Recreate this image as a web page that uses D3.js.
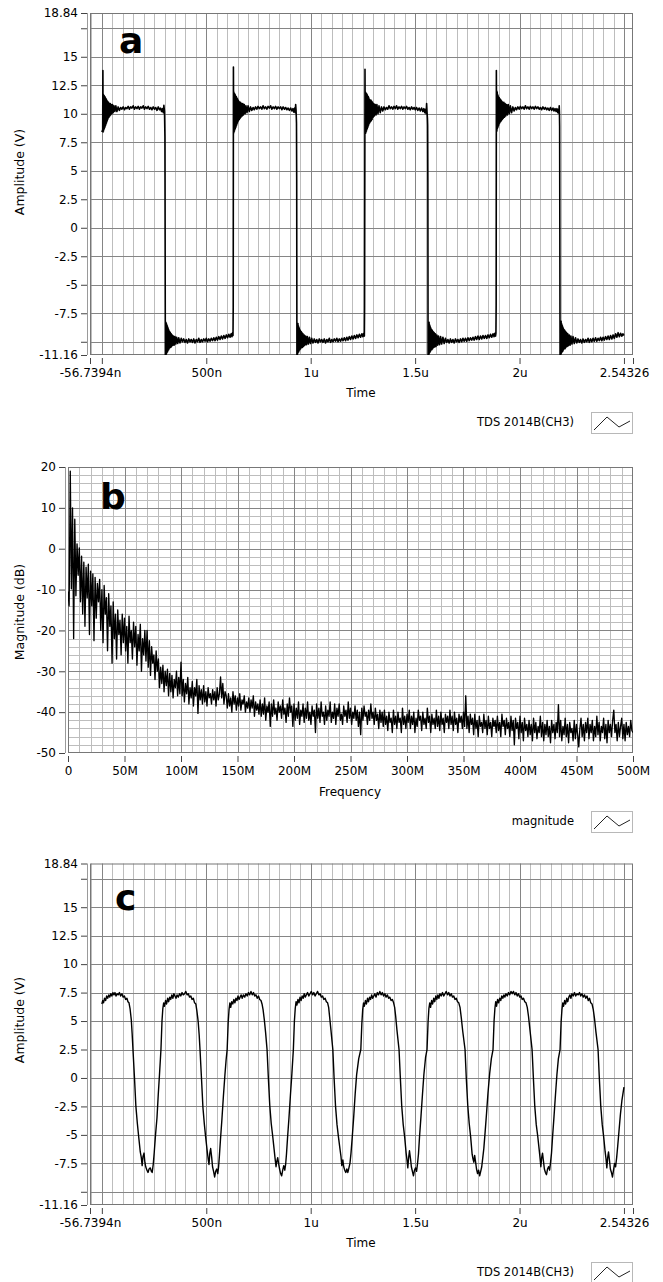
<!DOCTYPE html>
<html><head><meta charset="utf-8">
<script src="https://cdn.jsdelivr.net/npm/d3@7"></script>
<style>
html,body{margin:0;padding:0;background:#fff;}
svg text{font-family:"DejaVu Sans",Verdana,sans-serif;fill:#000;}
</style></head><body>
<svg id="chart" width="663" height="1282"></svg>
<script>
// ---------------- DATA ----------------
const timeTickValues = [-56.7394, 0, 500, 1000, 1500, 2000, 2500, 2543.26];
const timeTickLabels = ["-56.7394n", "", "500n", "1u", "1.5u", "2u", "", "2.54326"];
const ampTickValues = [18.84, 17.5, 15, 12.5, 10, 7.5, 5, 2.5, 0, -2.5, -5, -7.5, -10, -11.16];
const ampTickLabels = ["18.84", "", "15", "12.5", "10", "7.5", "5", "2.5", "0", "-2.5", "-5", "-7.5", "", "-11.16"];
const freqTickValues = [0, 50, 100, 150, 200, 250, 300, 350, 400, 450, 500];
const freqTickLabels = ["0", "50M", "100M", "150M", "200M", "250M", "300M", "350M", "400M", "450M", "500M"];
const magTickValues = [20, 10, 0, -10, -20, -30, -40, -50];
const magTickLabels = ["20", "10", "0", "-10", "-20", "-30", "-40", "-50"];

// panel a: [time ns, amplitude V]
const waveA = [
[0,8.4],[4,8.6],[5,13.8],[6,8.4],[7,11.7],[8,8.5],[9,11.6],[10,8.6],[11,11.6],[12,8.7],[13,11.5],[14,8.8],[15,11.5],[16,8.9],[17,11.4],[18,9.0],[19,11.3],[20,9.1],[21,11.3],[22,9.2],[23,11.2],[24,9.3],[25,11.1],[26,9.4],[27,11.1],[28,9.5],[29,11.0],[30,9.6],[32,11.0],[34,9.7],[36,10.9],[38,9.8],[40,10.9],[42,9.9],[45,10.8],[48,10.0],[51,10.8],[54,10.1],[58,10.7],[62,10.2],[67,10.7],[72,10.2],[78,10.6],[84,10.3],
[90,10.55],[96,10.4],[102,10.6],[108,10.35],[114,10.55],[120,10.45],[126,10.65],[132,10.4],[138,10.6],[144,10.5],[150,10.7],[156,10.4],[162,10.6],[168,10.45],[174,10.65],[180,10.4],[186,10.6],[192,10.5],[198,10.7],[204,10.4],[210,10.6],[216,10.45],[222,10.65],[228,10.4],[234,10.55],[240,10.35],[246,10.6],[252,10.4],[258,10.55],[264,10.3],[270,10.6],[276,10.35],[281,10.5],[286,10.2],[290,10.45],[294,10.1],[297,10.75],[300,10.2],[302,8.0],[303,-1.0],[304,-11.5],
[305,-8.4],[306,-11.3],[307,-8.3],[308,-11.1],[309,-8.4],[310,-11.0],[311,-8.5],[312,-10.9],[313,-8.6],[314,-10.9],[315,-8.7],[316,-10.8],[317,-8.8],[318,-10.7],[319,-8.9],[320,-10.7],[321,-9.0],[322,-10.6],[324,-9.1],[326,-10.5],[328,-9.2],[330,-10.5],[332,-9.3],[334,-10.4],[337,-9.4],[340,-10.3],[343,-9.5],[346,-10.3],[350,-9.55],[354,-10.2],[358,-9.6],[363,-10.15],[368,-9.65],[374,-10.1],[380,-9.7],
[386,-10.0],[392,-9.75],[398,-10.05],[404,-9.8],[410,-10.1],[416,-9.75],[422,-10.0],[428,-9.8],[434,-10.05],[440,-9.75],[446,-10.1],[452,-9.8],[458,-10.0],[464,-9.7],[470,-10.05],[476,-9.8],[482,-10.0],[488,-9.75],[494,-9.95],[500,-9.7],[506,-10.0],[512,-9.75],[518,-9.95],[524,-9.7],[530,-9.9],[536,-9.65],[542,-9.9],[548,-9.6],[554,-9.85],[560,-9.55],[566,-9.8],[572,-9.5],[578,-9.75],[584,-9.45],[590,-9.7],[596,-9.4],[602,-9.65],[608,-9.35],[614,-9.6],[619,-9.3],[623,-9.55],[626,-9.2],[628,-9.45],[629,-7.0],
[630,14.1],[631,8.3],[632,11.9],[633,8.4],[634,11.8],[635,8.5],[636,11.7],[637,8.6],[638,11.7],[639,8.7],[640,11.6],[641,8.8],[642,11.5],[643,8.9],[644,11.5],[645,9.0],[646,11.4],[647,9.1],[648,11.3],[649,9.2],[650,11.3],[651,9.3],[652,11.2],[654,9.4],[656,11.1],[658,9.5],[660,11.0],[662,9.6],[664,11.0],[666,9.7],[669,10.9],[672,9.8],[675,10.9],[678,9.9],[682,10.8],[686,10.0],[690,10.7],[695,10.1],[700,10.7],[706,10.2],[712,10.6],[718,10.3],
[724,10.55],[730,10.35],[736,10.6],[742,10.4],[748,10.65],[754,10.45],[760,10.6],[766,10.4],[772,10.7],[778,10.45],[784,10.6],[790,10.4],[796,10.65],[802,10.5],[808,10.7],[814,10.4],[820,10.6],[826,10.45],[832,10.65],[838,10.4],[844,10.6],[850,10.45],[856,10.6],[862,10.35],[868,10.6],[874,10.4],[880,10.55],[886,10.35],[892,10.5],[898,10.3],[904,10.5],[910,10.25],[915,10.45],[919,10.15],[923,10.5],[926,10.1],[928,10.8],[930,10.3],[932,9.2],[933,4.2],[934,-11.5],
[935,-8.4],[936,-11.2],[937,-8.5],[938,-11.0],[939,-8.4],[940,-10.9],[941,-8.6],[942,-10.9],[943,-8.7],[944,-10.8],[945,-8.8],[946,-10.7],[947,-8.9],[948,-10.7],[950,-9.0],[952,-10.6],[954,-9.1],[956,-10.5],[958,-9.2],[960,-10.5],[963,-9.3],[966,-10.4],[969,-9.4],[972,-10.3],[976,-9.5],[980,-10.25],[984,-9.55],[989,-10.2],[994,-9.6],[999,-10.15],[1005,-9.7],[1011,-10.1],
[1017,-9.75],[1023,-10.05],[1029,-9.8],[1035,-10.1],[1041,-9.75],[1047,-10.0],[1053,-9.8],[1059,-10.05],[1065,-9.75],[1071,-10.1],[1077,-9.8],[1083,-10.0],[1089,-9.7],[1095,-10.05],[1101,-9.8],[1107,-10.0],[1113,-9.75],[1119,-9.95],[1125,-9.7],[1131,-10.0],[1137,-9.75],[1143,-9.95],[1149,-9.7],[1155,-9.9],[1161,-9.65],[1167,-9.9],[1173,-9.6],[1179,-9.85],[1185,-9.55],[1191,-9.8],[1197,-9.5],[1203,-9.75],[1209,-9.45],[1215,-9.7],[1221,-9.4],[1227,-9.65],[1233,-9.35],[1239,-9.6],[1245,-9.3],[1250,-9.55],[1254,-9.25],[1257,-9.5],[1258,-7.0],
[1260,13.9],[1261,8.3],[1262,11.9],[1263,8.3],[1264,11.8],[1265,8.4],[1266,11.8],[1267,8.5],[1268,11.7],[1269,8.6],[1270,11.7],[1271,8.7],[1272,11.6],[1273,8.8],[1274,11.5],[1275,8.9],[1276,11.5],[1277,9.0],[1278,11.4],[1279,9.1],[1280,11.3],[1282,9.2],[1284,11.2],[1286,9.3],[1288,11.2],[1290,9.4],[1292,11.1],[1294,9.5],[1296,11.0],[1299,9.7],[1302,10.9],[1305,9.8],[1309,10.8],[1313,9.9],[1317,10.8],[1322,10.0],[1327,10.7],[1333,10.1],[1339,10.6],[1345,10.25],
[1351,10.6],[1357,10.35],[1363,10.55],[1369,10.4],[1375,10.7],[1381,10.45],[1387,10.6],[1393,10.4],[1399,10.65],[1405,10.45],[1411,10.7],[1417,10.4],[1423,10.6],[1429,10.45],[1435,10.65],[1441,10.4],[1447,10.6],[1453,10.45],[1459,10.65],[1465,10.4],[1471,10.55],[1477,10.35],[1483,10.6],[1489,10.4],[1495,10.55],[1501,10.35],[1507,10.55],[1513,10.3],[1519,10.5],[1525,10.25],[1531,10.5],[1537,10.2],[1542,10.45],[1546,10.1],[1550,10.4],[1553,10.0],[1555,10.9],[1557,10.2],[1559,9.6],[1560,9.0],[1561,4.0],[1562,-11.5],
[1563,-8.3],[1564,-11.2],[1565,-8.4],[1566,-11.1],[1567,-8.3],[1568,-11.0],[1569,-8.5],[1570,-10.9],[1571,-8.6],[1572,-10.9],[1573,-8.7],[1574,-10.8],[1575,-8.8],[1576,-10.7],[1578,-8.9],[1580,-10.7],[1582,-9.0],[1584,-10.6],[1586,-9.1],[1588,-10.5],[1591,-9.2],[1594,-10.45],[1597,-9.3],[1600,-10.4],[1604,-9.4],[1608,-10.3],[1612,-9.5],[1617,-10.25],[1622,-9.55],[1627,-10.2],[1633,-9.6],[1639,-10.15],[1645,-9.7],
[1651,-10.05],[1657,-9.8],[1663,-10.1],[1669,-9.75],[1675,-10.05],[1681,-9.8],[1687,-10.1],[1693,-9.75],[1699,-10.0],[1705,-9.8],[1711,-10.05],[1717,-9.75],[1723,-10.0],[1729,-9.7],[1735,-9.95],[1741,-9.7],[1747,-9.95],[1753,-9.65],[1759,-9.9],[1765,-9.65],[1771,-9.85],[1777,-9.6],[1783,-9.85],[1789,-9.55],[1795,-9.8],[1801,-9.5],[1807,-9.8],[1813,-9.5],[1819,-9.75],[1825,-9.45],[1831,-9.7],[1837,-9.45],[1843,-9.7],[1849,-9.4],[1855,-9.65],[1861,-9.35],[1867,-9.6],[1873,-9.3],[1878,-9.55],[1882,-9.25],[1885,-9.5],[1887,-9.25],[1888,-6.8],
[1889,13.8],[1890,8.5],[1891,12.0],[1892,8.5],[1893,11.9],[1894,8.7],[1895,11.7],[1896,8.8],[1897,11.6],[1898,8.9],[1899,11.5],[1900,9.0],[1901,11.4],[1902,9.1],[1903,11.4],[1905,9.2],[1907,11.3],[1909,9.3],[1911,11.2],[1913,9.4],[1915,11.1],[1917,9.5],[1919,11.0],[1922,9.6],[1925,11.0],[1928,9.7],[1931,10.9],[1934,9.8],[1938,10.8],[1942,9.9],[1946,10.8],[1951,10.0],[1956,10.7],[1962,10.1],[1968,10.6],[1974,10.25],
[1980,10.55],[1986,10.35],[1992,10.6],[1998,10.4],[2004,10.65],[2010,10.45],[2016,10.6],[2022,10.4],[2028,10.7],[2034,10.45],[2040,10.6],[2046,10.4],[2052,10.65],[2058,10.45],[2064,10.6],[2070,10.4],[2076,10.65],[2082,10.45],[2088,10.6],[2094,10.4],[2100,10.55],[2106,10.35],[2112,10.6],[2118,10.4],[2124,10.55],[2130,10.35],[2136,10.5],[2142,10.3],[2148,10.55],[2154,10.3],[2160,10.5],[2165,10.25],[2170,10.45],[2175,10.2],[2179,10.45],[2183,10.1],[2186,10.4],[2188,10.05],[2190,10.7],[2191,10.2],[2192,8.9],[2193,-0.5],[2194,-11.5],
[2195,-8.2],[2196,-11.3],[2197,-8.3],[2198,-11.1],[2199,-8.2],[2200,-11.0],[2201,-8.4],[2202,-10.9],[2203,-8.5],[2204,-10.9],[2205,-8.6],[2206,-10.8],[2207,-8.7],[2208,-10.8],[2209,-8.8],[2210,-10.7],[2212,-8.9],[2214,-10.6],[2216,-9.0],[2218,-10.6],[2220,-9.1],[2222,-10.5],[2225,-9.2],[2228,-10.4],[2231,-9.3],[2234,-10.35],[2238,-9.4],[2242,-10.3],[2246,-9.5],[2251,-10.2],[2256,-9.55],[2262,-10.15],[2268,-9.65],[2274,-10.1],
[2280,-9.75],[2286,-10.05],[2292,-9.8],[2298,-10.1],[2304,-9.75],[2310,-10.05],[2316,-9.8],[2322,-10.0],[2328,-9.7],[2334,-10.05],[2340,-9.75],[2346,-10.0],[2352,-9.7],[2358,-9.95],[2364,-9.65],[2370,-9.95],[2376,-9.7],[2382,-9.9],[2388,-9.6],[2394,-9.9],[2400,-9.6],[2406,-9.85],[2412,-9.55],[2418,-9.8],[2424,-9.5],[2430,-9.8],[2436,-9.45],[2442,-9.75],[2448,-9.4],[2454,-9.7],[2460,-9.3],[2466,-9.6],[2472,-9.2],[2478,-9.55],[2484,-9.25],[2490,-9.5],[2495,-9.3],[2500,-9.45]
];

// panel b: magnitude in dB at 1 MHz steps starting at 0 MHz
const freqStepMHz = 1;
const spectrumB = [
-10.5,-14,19,-9.8,10,-22,7.2,-11.5,1.2,-6.5,
0.2,-13,-1.8,-16,-3.3,-19,-4.5,-12,-3.8,-21,
-5.5,-14,-6.2,-22.5,-7,-17,-8.5,-13,-7.5,-20,
-10,-23,-9,-16,-12,-25,-11,-19,-14,-28,
-13,-22,-16,-27,-15,-21,-17.5,-26,-16,-23,
-17,-25,-19,-28,-16.5,-23,-20,-27,-18,-24,
-19,-28.5,-21,-25,-18.5,-30,-22,-26,-20,-27.5,
-20,-29,-22.5,-31,-24,-28,-26,-32,-25,-30,
-27,-34,-29,-33,-28.5,-35,-30,-33.5,-29.5,-36,
-30.5,-35,-31,-36.5,-32,-34,-30,-36,-31.5,-35.5,
-27.8,-36,-32,-37.5,-33,-35.5,-31.5,-38,-34,-36.5,
-32.5,-38.5,-34,-36,-32,-40.3,-33.5,-37,-34.5,-38,
-33.5,-37.5,-35,-38.5,-34,-36.5,-35.5,-38,-34.5,-37,
-35,-38.5,-34,-37,-35.5,-31.4,-36.5,-33,-38,-35,
-36,-39,-35.5,-38.5,-36.5,-40,-35,-38,-36,-39.5,
-36.5,-38.5,-35.5,-39.5,-37,-38,-36,-40,-37.5,-39,
-36.5,-40,-37,-39,-36,-41,-37.5,-39.5,-38,-40.5,
-37,-41,-38,-40.5,-36.5,-42,-38.5,-40,-37.5,-43.5,
-38,-41,-37,-40.5,-39,-42,-37.5,-40,-38.5,-41.5,
-37,-40.5,-39,-42.5,-38,-41,-36.5,-40,-38.5,-43.5,
-38,-42,-39,-41.5,-37.5,-43,-39.5,-41,-38,-42.5,
-39,-41.5,-37.5,-42,-40,-43,-38.5,-41,-39.5,-45,
-38,-41.5,-39,-42.5,-37.5,-41,-40,-43,-38.5,-42,
-39.5,-41,-37.5,-42.5,-40,-41.5,-38,-43,-39,-41,
-38,-42,-40.5,-43,-38.5,-41,-39.5,-42.5,-37.5,-41.5,
-39,-43,-40,-41.5,-38.5,-42,-39.5,-43.5,-40,-45.5,
-39,-42,-38.5,-41,-40,-43,-39.5,-42,-38,-41.5,
-40,-43,-39,-42,-40.5,-44,-39.5,-42.5,-40,-43.5,
-39.5,-43,-41,-44.5,-40,-42.5,-41.5,-45,-39.5,-43,
-41,-44,-40,-42.5,-41.5,-45,-39,-43,-41,-44,
-40.5,-42.5,-39.5,-44,-41,-43,-40,-45,-41.5,-43.5,
-39.5,-42,-41,-44.5,-40,-43,-41.5,-44,-39,-42.5,
-41,-45,-40.5,-43,-41.5,-44,-39.5,-43.5,-41,-44.5,
-40,-43,-41.5,-45,-40.5,-42.5,-41,-44,-39.5,-43,
-41,-44.5,-40,-43,-41.5,-45,-40.5,-42.5,-41,-44,
-40,-43.5,-36,-44,-41,-45,-40.5,-43,-41.5,-45.5,
-40.5,-44,-42,-46,-41,-43.5,-42.5,-45,-40.5,-44,
-42,-45.5,-41,-44,-42.5,-46,-41.5,-43.5,-42,-45,
-41,-44.5,-42.5,-46,-40.5,-43.5,-42,-45.5,-41.5,-44,
-42.5,-46,-41,-44.5,-42,-48,-41.5,-44,-42.5,-46.5,
-41,-45,-42.5,-47,-41.5,-44.5,-43,-46,-42,-45.5,
-43,-47,-41.5,-45,-42.5,-46.5,-43.5,-45,-41,-46,
-42.5,-47,-43,-45.5,-42,-46,-43.5,-47.5,-42,-45,
-43,-46.5,-42.5,-45,-38.2,-46,-42,-47,-43.5,-45.5,
-41.5,-46,-43,-47.5,-42.5,-45,-44,-47,-42,-46.5,
-43,-45.5,-48.5,-44,-41.5,-46,-43,-47,-42.5,-45,
-41.5,-46.5,-43,-45,-42,-47,-43.5,-46,-41,-45.5,
-42.5,-47,-43.5,-45,-41.5,-46.5,-43,-47.5,-42,-45,
-43,-46,-42,-39.5,-45,-43,-47,-42.5,-46,-43.5,
-41.5,-46.5,-43,-47,-42.5,-45.5,-43.5,-46,-42,-44.5,
-45
];

// panel c: [time ns, amplitude V]
const waveC = [
[0,6.5],[4,6.8],[8,6.6],[13,7.0],[18,6.8],[23,7.2],[28,7.0],[33,7.3],[38,7.1],[43,7.4],[48,7.2],[53,7.5],[58,7.3],[63,7.5],[68,7.2],[73,7.4],[78,7.3],[84,7.5],[90,7.2],[96,7.4],[102,7.1],[108,7.2],[114,6.9],[120,7.0],[125,6.7],[130,6.6],[135,6.1],[141,5.1],[145,3.9],[149,2.5],
[156,0.1],[163,-2.5],[170,-4.0],[176,-5.1],[184,-6.5],[189,-7.0],[193,-7.7],[197,-6.9],[202,-6.6],[206,-7.4],[210,-7.8],[216,-8.1],[221,-8.3],[226,-8.0],[232,-7.9],[237,-8.2],[241,-8.3],[246,-7.6],[251,-6.5],[257,-5.0],[264,-3.5],[270,-1.5],[276,0.3],[283,2.5],
[288,5.0],[292,6.1],[296,6.6],[300,6.3],[305,6.8],[310,6.5],[315,7.0],[320,6.7],[325,7.1],[330,6.9],[335,7.3],[340,7.0],[345,7.4],[350,7.2],[355,7.0],[360,7.3],[366,7.1],[372,7.4],[378,7.2],[384,7.5],[390,7.3],[396,7.4],[402,7.6],[408,7.3],[414,7.4],[420,7.1],[426,7.2],[432,6.9],[438,7.0],[444,6.6],[450,6.5],[455,5.9],[461,5.0],[466,3.8],[470,2.5],
[477,0.0],[484,-2.6],[491,-4.1],[497,-5.2],[505,-6.5],[509,-7.1],[513,-7.6],[517,-6.6],[521,-6.2],[526,-7.0],[530,-7.8],[535,-8.2],[540,-8.7],[545,-8.2],[550,-8.0],[555,-8.4],[559,-7.8],[563,-6.8],[568,-5.4],[575,-3.6],[582,-1.6],[589,0.2],[595,1.6],[600,2.5],
[605,4.9],[609,6.0],[613,6.6],[617,6.2],[622,6.7],[627,6.5],[632,6.9],[637,6.6],[642,7.0],[647,6.8],[652,7.2],[657,6.9],[662,7.1],[667,7.3],[672,7.0],[678,7.3],[684,7.1],[690,7.4],[696,7.2],[702,7.5],[708,7.3],[714,7.6],[720,7.3],[726,7.5],[732,7.2],[738,7.3],[744,7.0],[750,7.2],[756,6.9],[762,6.8],[767,6.5],[772,6.0],[778,5.1],[784,4.0],[791,2.5],
[797,0.1],[804,-2.4],[811,-4.0],[818,-5.1],[825,-6.3],[829,-7.0],[834,-7.8],[838,-7.3],[842,-7.0],[847,-7.6],[851,-8.0],[856,-8.4],[861,-8.6],[866,-8.1],[871,-7.7],[876,-8.1],[880,-7.6],[884,-6.7],[889,-5.3],[896,-3.5],[903,-1.5],[910,0.4],[917,2.5],
[922,5.0],[926,6.1],[930,6.7],[934,6.4],[939,6.9],[944,6.6],[949,7.1],[954,6.8],[959,7.2],[964,7.0],[969,7.4],[974,7.1],[979,7.3],[985,7.5],[991,7.2],[997,7.4],[1003,7.6],[1009,7.3],[1015,7.5],[1021,7.2],[1027,7.4],[1033,7.6],[1039,7.3],[1045,7.4],[1051,7.1],[1057,7.2],[1063,6.9],[1069,7.0],[1075,6.7],[1081,6.6],[1086,6.2],[1091,5.3],[1097,4.2],[1106,2.5],
[1112,0.0],[1119,-2.5],[1126,-4.1],[1133,-5.2],[1140,-6.2],[1145,-6.9],[1149,-7.7],[1154,-7.2],[1158,-7.8],[1163,-8.1],[1168,-8.3],[1173,-8.0],[1178,-8.3],[1183,-7.9],[1188,-7.5],[1193,-6.6],[1199,-5.2],[1206,-3.4],[1213,-1.4],[1220,0.3],[1230,1.7],[1240,2.5],
[1245,4.8],[1249,6.0],[1253,6.6],[1257,6.3],[1262,6.8],[1267,6.5],[1272,7.0],[1277,6.7],[1282,7.1],[1287,6.9],[1292,7.3],[1297,7.0],[1302,7.2],[1307,7.4],[1313,7.1],[1319,7.5],[1325,7.3],[1331,7.6],[1337,7.3],[1343,7.5],[1349,7.2],[1355,7.4],[1361,7.1],[1367,7.3],[1373,7.0],[1379,7.1],[1385,6.8],[1391,6.9],[1397,6.6],[1402,6.2],[1407,5.4],[1413,4.2],[1423,2.5],
[1429,0.1],[1436,-2.5],[1443,-4.1],[1450,-5.2],[1457,-6.6],[1461,-7.2],[1465,-7.9],[1469,-7.0],[1473,-6.4],[1478,-7.1],[1482,-7.8],[1487,-8.2],[1492,-8.6],[1497,-8.1],[1502,-7.9],[1507,-8.2],[1511,-7.6],[1516,-6.7],[1521,-5.2],[1528,-3.4],[1535,-1.5],[1542,0.3],[1550,1.8],[1557,2.5],
[1562,4.9],[1566,6.1],[1570,6.6],[1574,6.2],[1579,6.8],[1584,6.5],[1589,7.0],[1594,6.7],[1599,7.2],[1604,6.9],[1609,7.3],[1614,7.0],[1619,7.4],[1625,7.2],[1631,7.5],[1637,7.2],[1643,7.4],[1649,7.6],[1655,7.3],[1661,7.5],[1667,7.2],[1673,7.4],[1679,7.1],[1685,7.2],[1691,6.9],[1697,7.0],[1703,6.7],[1709,6.6],[1715,6.2],[1721,5.3],[1728,4.1],[1739,2.5],
[1745,0.0],[1752,-2.4],[1759,-4.0],[1766,-5.2],[1773,-6.7],[1777,-7.1],[1781,-7.4],[1785,-6.8],[1789,-7.3],[1794,-8.0],[1799,-8.4],[1804,-8.1],[1809,-8.6],[1814,-8.2],[1819,-7.8],[1824,-7.0],[1829,-6.2],[1835,-4.8],[1842,-3.1],[1849,-1.3],[1857,0.4],[1865,1.7],[1873,2.5],
[1878,5.0],[1882,6.1],[1886,6.7],[1890,6.3],[1895,6.9],[1900,6.6],[1905,7.0],[1910,6.8],[1915,7.2],[1920,7.0],[1925,7.3],[1930,7.1],[1935,7.4],[1941,7.2],[1947,7.5],[1953,7.3],[1959,7.6],[1965,7.4],[1971,7.6],[1977,7.3],[1983,7.5],[1989,7.2],[1995,7.4],[2001,7.1],[2007,7.2],[2013,6.9],[2019,7.0],[2025,6.7],[2031,6.6],[2037,6.2],[2043,5.4],[2050,4.2],[2060,2.5],
[2066,0.1],[2073,-2.5],[2080,-4.1],[2087,-5.1],[2094,-6.3],[2098,-7.0],[2102,-7.8],[2106,-7.0],[2110,-6.6],[2115,-7.4],[2119,-8.0],[2124,-8.3],[2129,-8.5],[2134,-8.0],[2139,-7.8],[2144,-8.1],[2148,-7.5],[2153,-6.6],[2158,-5.2],[2165,-3.4],[2172,-1.5],[2179,0.3],[2186,1.7],[2194,2.5],
[2199,4.9],[2203,6.0],[2207,6.6],[2211,6.3],[2216,6.8],[2221,6.5],[2226,7.0],[2231,6.7],[2236,7.1],[2241,7.3],[2246,7.0],[2251,7.4],[2257,7.2],[2263,7.5],[2269,7.2],[2275,7.4],[2281,7.3],[2287,7.5],[2293,7.2],[2299,7.4],[2305,7.1],[2311,7.3],[2317,7.0],[2323,7.2],[2329,6.8],[2335,7.0],[2341,6.6],[2347,6.5],[2353,6.0],[2359,5.2],[2366,4.0],[2376,2.5],
[2382,0.0],[2389,-2.5],[2396,-4.1],[2403,-5.2],[2410,-6.5],[2414,-7.1],[2418,-7.9],[2422,-7.0],[2426,-6.5],[2431,-7.3],[2435,-8.0],[2440,-8.3],[2445,-8.7],[2450,-8.1],[2455,-7.5],[2460,-7.8],[2465,-7.0],[2470,-6.0],[2476,-4.7],[2483,-3.2],[2490,-2.0],[2500,-0.8]
];

// ---------------- DRAWING ----------------
const svg = d3.select("#chart");
const MAJOR = "#858585", MINOR = "#bdbdbd", FRAME = "#777";
const TIME_DOMAIN = [-56.7394, 2543.26];
const AMP_DOMAIN = [-11.16, 18.84];

function vlines(g, vals, x, top, bottom, color) {
  g.append("g").selectAll("line").data(vals).join("line")
    .attr("x1", d => Math.round(x(d)) + 0.5).attr("x2", d => Math.round(x(d)) + 0.5)
    .attr("y1", top).attr("y2", bottom)
    .attr("stroke", color).attr("stroke-width", 1);
}
function hlines(g, vals, y, left, right, color) {
  g.append("g").selectAll("line").data(vals).join("line")
    .attr("y1", d => Math.round(y(d)) + 0.5).attr("y2", d => Math.round(y(d)) + 0.5)
    .attr("x1", left).attr("x2", right)
    .attr("stroke", color).attr("stroke-width", 1);
}

function axes(g, x, y, L, R, T, B, xVals, xLabels, yVals, yLabels) {
  g.append("line").attr("x1", L - 2.5).attr("x2", L - 2.5).attr("y1", T).attr("y2", B)
    .attr("stroke", "#9a9a9a");
  const ya = d3.axisLeft(y).tickValues(yVals).tickSize(6).tickPadding(3)
    .tickFormat((d, i) => yLabels[i]);
  const yg = g.append("g").attr("transform", `translate(${L - 3},0)`).call(ya);
  yg.select(".domain").remove();
  yg.selectAll(".tick line").attr("stroke", "#444");
  yg.selectAll(".tick text").attr("font-size", 12).attr("font-family", "DejaVu Sans, sans-serif")
    .attr("fill", "#000");
  const xa = d3.axisBottom(x).tickValues(xVals).tickSize(6).tickPadding(4)
    .tickFormat((d, i) => xLabels[i]);
  const xg = g.append("g").attr("transform", `translate(0,${B + 3})`).call(xa);
  xg.select(".domain").remove();
  xg.selectAll(".tick line").attr("stroke", "#444");
  xg.selectAll(".tick text").attr("font-size", 12).attr("font-family", "DejaVu Sans, sans-serif")
    .attr("fill", "#000");
  return xg;
}

function legend(g, text, cy) {
  g.append("text").attr("x", 574).attr("y", cy).attr("dy", "0.35em")
    .attr("text-anchor", "end").attr("font-size", 11.5).text(text);
  const bx = 591, by = cy - 10, bw = 41, bh = 21;
  g.append("rect").attr("x", bx + 0.5).attr("y", by + 0.5).attr("width", bw).attr("height", bh)
    .attr("fill", "#fff").attr("stroke", "#b8b8b8");
  const icon = [[3, 18], [16, 5], [28, 15], [39, 9]];
  g.append("path").attr("d", d3.line()(icon.map(p => [bx + p[0], by + p[1]])))
    .attr("fill", "none").attr("stroke", "#222").attr("stroke-width", 1);
}

function timePanel(opt) {
  const { L, R, T, B, data, letter, lx, ly, ylabelCY, id, sw } = opt;
  const x = d3.scaleLinear().domain(TIME_DOMAIN).range([L, R]);
  const y = d3.scaleLinear().domain(AMP_DOMAIN).range([B, T]);
  const g = svg.append("g");
  g.append("rect").attr("x", L).attr("y", T).attr("width", R - L).attr("height", B - T).attr("fill", "#fff");
  const majors = [0, 500, 1000, 1500, 2000, 2500];
  const minors = d3.range(-50, 2550, 50).filter(v => v % 500 !== 0);
  vlines(g, minors, x, T, B, MINOR);
  vlines(g, majors, x, T, B, MAJOR);
  hlines(g, d3.range(-10, 18, 2.5), y, L, R, MAJOR);
  g.append("rect").attr("x", L + 0.5).attr("y", T + 0.5).attr("width", R - L - 1).attr("height", B - T - 1)
    .attr("fill", "none").attr("stroke", FRAME);
  svg.append("clipPath").attr("id", id).append("rect")
    .attr("x", L).attr("y", T).attr("width", R - L).attr("height", B - T);
  const line = d3.line().x(d => x(d[0])).y(d => y(d[1]));
  g.append("path").datum(data).attr("clip-path", `url(#${id})`)
    .attr("d", line).attr("fill", "none").attr("stroke", "#000").attr("stroke-width", sw)
    .attr("stroke-linejoin", "round");
  const xg = axes(g, x, y, L, R, T, B, timeTickValues, timeTickLabels, ampTickValues, ampTickLabels);
  xg.selectAll(".tick text").filter((d, i) => i === timeTickValues.length - 1).attr("dx", -9);
  g.append("text").attr("x", 361).attr("y", B + 38).attr("dy", "0.35em").attr("text-anchor", "middle")
    .attr("font-size", 12).text("Time");
  g.append("text").attr("transform", `translate(20,${ylabelCY}) rotate(-90)`).attr("dy", "0.35em")
    .attr("text-anchor", "middle").attr("font-size", 12.5).text("Amplitude (V)");
  g.append("text").attr("x", lx).attr("y", ly).attr("font-size", 36).attr("font-weight", "bold")
    .attr("font-family", "Liberation Sans, Arial, sans-serif").text(letter);
  legend(g, "TDS 2014B(CH3)", B + 67);
}

function freqPanel(opt) {
  const { L, R, T, B } = opt;
  const x = d3.scaleLinear().domain([0, 500]).range([L, R]);
  const y = d3.scaleLinear().domain([-50, 20]).range([B, T]);
  const g = svg.append("g");
  g.append("rect").attr("x", L).attr("y", T).attr("width", R - L).attr("height", B - T).attr("fill", "#fff");
  vlines(g, d3.range(10, 500, 10).filter(v => v % 50 !== 0), x, T, B, MINOR);
  hlines(g, d3.range(-48, 20, 2).filter(v => v % 10 !== 0), y, L, R, MINOR);
  vlines(g, d3.range(50, 500, 50), x, T, B, MAJOR);
  hlines(g, d3.range(-40, 20, 10), y, L, R, MAJOR);
  g.append("rect").attr("x", L + 0.5).attr("y", T + 0.5).attr("width", R - L - 1).attr("height", B - T - 1)
    .attr("fill", "none").attr("stroke", FRAME);
  svg.append("clipPath").attr("id", "clipB").append("rect")
    .attr("x", L).attr("y", T).attr("width", R - L).attr("height", B - T);
  const pts = spectrumB.map((v, i) => [i * freqStepMHz, v]);
  const line = d3.line().x(d => x(d[0])).y(d => y(d[1]));
  g.append("path").datum(pts).attr("clip-path", "url(#clipB)")
    .attr("d", line).attr("fill", "none").attr("stroke", "#000").attr("stroke-width", 1.35)
    .attr("stroke-linejoin", "round");
  axes(g, x, y, L, R, T, B, freqTickValues, freqTickLabels, magTickValues, magTickLabels);
  g.append("text").attr("x", 350).attr("y", B + 39).attr("dy", "0.35em").attr("text-anchor", "middle")
    .attr("font-size", 12).text("Frequency");
  g.append("text").attr("transform", `translate(20,612) rotate(-90)`).attr("dy", "0.35em")
    .attr("text-anchor", "middle").attr("font-size", 12.5).text("Magnitude (dB)");
  g.append("text").attr("x", 100).attr("y", 509).attr("font-size", 36).attr("font-weight", "bold")
    .attr("font-family", "Liberation Sans, Arial, sans-serif").text("b");
  legend(g, "magnitude", B + 68);
}

timePanel({ L: 90, R: 633, T: 13, B: 355, data: waveA, letter: "a", lx: 119, ly: 53, ylabelCY: 172, id: "clipA", sw: 1.6 });
freqPanel({ L: 68, R: 633, T: 467, B: 753 });
timePanel({ L: 90, R: 633, T: 863.5, B: 1205, data: waveC, letter: "c", lx: 115, ly: 910, ylabelCY: 1020, id: "clipC", sw: 1.4 });
</script>
</body></html>
